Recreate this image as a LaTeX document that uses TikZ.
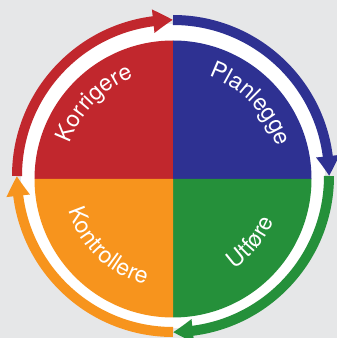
\documentclass[tikz,border=0pt]{standalone}
\usepackage{fontspec}
\newfontfamily\heros{TeX Gyre Heros}
\usetikzlibrary{arrows.meta,bending,calc,decorations.text}
\definecolor{bg}{HTML}{E6E7E8}
\definecolor{kred}{HTML}{C1272D}
\definecolor{kblue}{HTML}{2E3192}
\definecolor{kgreen}{HTML}{25903A}
\definecolor{korange}{HTML}{F7941D}
\newcommand\lblfont{\heros\fontsize{23}{23}\selectfont}
\begin{document}
\begin{tikzpicture}[
  cyc/.style={line width=10pt, -{Triangle[length=20pt,width=22pt,bend]}},
  lbl/.style={decorate, decoration={text along path, text align=center, text color=white, text={|\lblfont|#1}}}
]
\fill[bg] (0,0) rectangle (337pt,338pt);
\useasboundingbox (0,0) rectangle (337pt,338pt);
\coordinate (A) at (173pt,162pt);
\coordinate (Q) at (173pt,159pt);
\fill[white] (A) circle[radius=152pt];
\fill[kred] (Q) -- ++(180:138.5pt) arc[start angle=180,end angle=90,radius=138.5pt] -- cycle;
\fill[kblue] (Q) -- ++(90:138.5pt) arc[start angle=90,end angle=0,radius=138.5pt] -- cycle;
\fill[kgreen] (Q) -- ++(0:138.5pt) arc[start angle=0,end angle=-90,radius=138.5pt] -- cycle;
\fill[korange] (Q) -- ++(270:138.5pt) arc[start angle=270,end angle=180,radius=138.5pt] -- cycle;
\draw[cyc,kred] ($(A)+(180:156pt)$) arc[start angle=180,end angle=90,radius=156pt];
\draw[cyc,kblue] ($(A)+(90:156pt)$) arc[start angle=90,end angle=0,radius=156pt];
\draw[cyc,kgreen] ($(A)+(0:156pt)$) arc[start angle=0,end angle=-90,radius=156pt];
\draw[cyc,korange] ($(A)+(270:156pt)$) arc[start angle=270,end angle=180,radius=156pt];
\path[lbl=Korrigere] ($(Q)+(196:109pt)$) arc[start angle=196,end angle=76,radius=109pt];
\path[lbl=Planlegge] ($(Q)+(104:109pt)$) arc[start angle=104,end angle=-16,radius=109pt];
\path[lbl=Kontrollere] ($(Q)+(166:109pt)$) arc[start angle=166,end angle=286,radius=109pt];
\path[lbl=Utføre] ($(Q)+(261:109pt)$) arc[start angle=261,end angle=381,radius=109pt];
\end{tikzpicture}
\end{document}
